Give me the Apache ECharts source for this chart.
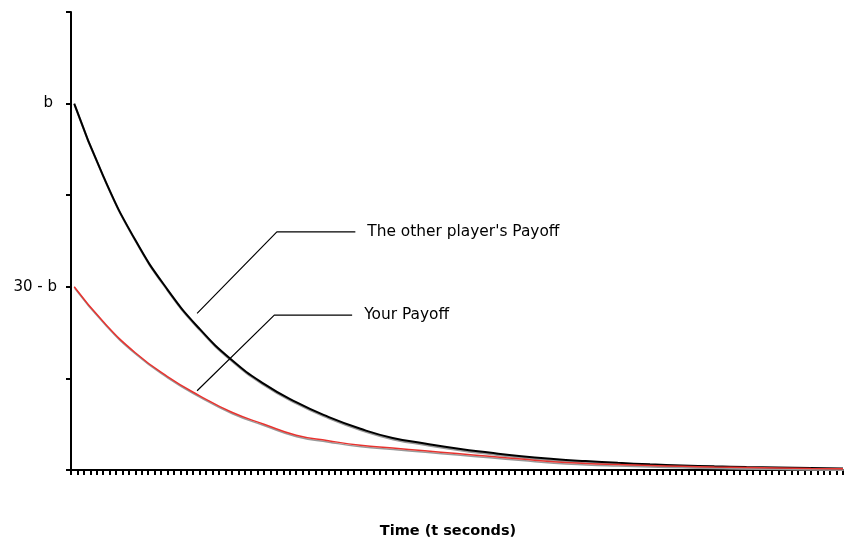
<!DOCTYPE html>
<html>
<head>
<meta charset="utf-8">
<script src="https://cdn.jsdelivr.net/npm/echarts@6/dist/echarts.min.js"></script>
<style>html,body{margin:0;padding:0;background:#fff;overflow:hidden}#c{width:845px;height:544px}</style>
</head>
<body>
<div id="c"></div>
<script>
// Time samples (seconds)
var times = [0.5, 5, 10, 15, 20, 25, 30, 35, 40, 45, 50, 55, 60, 65, 70, 75, 80, 85, 90, 95, 100, 105, 110, 115, 120];
// The other player's payoff (starts at b)
var otherPayoff = [4.00, 3.21, 2.51, 1.97, 1.54, 1.20, 0.94, 0.74, 0.58, 0.45, 0.35, 0.29, 0.235, 0.19, 0.15, 0.12, 0.097, 0.078, 0.062, 0.05, 0.04, 0.032, 0.026, 0.021, 0.017];
// Your payoff (starts at 30 - b)
var yourPayoff = [2.00, 1.62, 1.28, 1.02, 0.81, 0.63, 0.50, 0.38, 0.32, 0.27, 0.24, 0.21, 0.18, 0.15, 0.12, 0.09, 0.072, 0.06, 0.05, 0.04, 0.032, 0.026, 0.021, 0.017, 0.014];
// Y tick labels by tick value
var yTickValues = [0, 1, 2, 3, 4, 5];
var yTickLabels = ['', '', '30 - b', '', 'b', ''];
// Leader lines (data coordinates) and their labels
var otherLeader = [[19.6, 1.71], [32.0, 2.60], [44.2, 2.60]];
var yourLeader = [[19.6, 0.865], [31.6, 1.69], [43.7, 1.69]];
var leaderLabels = ["The other player's Payoff", 'Your Payoff'];
var xTitle = 'Time (t seconds)';

function pairs(xs, ys) { return xs.map(function (x, i) { return [x, ys[i]]; }); }

var FONT = 'DejaVu Sans';
var chart = echarts.init(document.getElementById('c'), null, { renderer: 'canvas', width: 845, height: 544 });

function leaderSeries(data, text) {
  return {
    type: 'line', data: data, symbol: 'none', silent: true, z: 3,
    lineStyle: { color: '#000', width: 1.2 },
    endLabel: { show: true, formatter: text, color: '#000', fontFamily: FONT, fontSize: 15.4, distance: 12 }
  };
}

chart.setOption({
  animation: false,
  backgroundColor: '#fff',
  grid: { left: 71, right: 2, top: 12, bottom: 64, containLabel: false },
  xAxis: {
    type: 'value', min: 0, max: 120, interval: 1,
    axisLine: { show: true, lineStyle: { color: '#000', width: 2 } },
    axisTick: { show: true, inside: false, length: 5, lineStyle: { color: '#000', width: 2 } },
    axisLabel: { show: false },
    splitLine: { show: false },
    name: xTitle, nameLocation: 'middle', nameGap: 54,
    nameTextStyle: { fontFamily: FONT, fontWeight: 'bold', fontSize: 14.5, color: '#000', padding: [0, 18, 0, 0] }
  },
  yAxis: {
    type: 'value', min: 0, max: 5, interval: 1,
    axisLine: { show: true, lineStyle: { color: '#000', width: 2 } },
    axisTick: { show: true, inside: false, length: 5, lineStyle: { color: '#000', width: 2 } },
    axisLabel: {
      show: true, margin: 14, color: '#000', fontFamily: FONT, fontSize: 15,
      formatter: function (v) {
        var i = yTickValues.indexOf(v);
        var t = i >= 0 ? yTickLabels[i] : '';
        return t === 'b' ? '{p|' + t + '}' : t;
      },
      rich: { p: { fontFamily: FONT, fontSize: 15, color: '#000', padding: [0, 4, 0, 0] } }
    },
    splitLine: { show: false }
  },
  series: [
    {
      type: 'line', data: pairs(times, otherPayoff), smooth: true, symbol: 'none', z: 2,
      lineStyle: { color: '#000', width: 2, shadowColor: '#999', shadowBlur: 0, shadowOffsetX: 0.5, shadowOffsetY: 1.5 }
    },
    {
      type: 'line', data: pairs(times, yourPayoff), smooth: true, symbol: 'none', z: 2,
      lineStyle: { color: '#e8332f', width: 1.5, shadowColor: '#999', shadowBlur: 0, shadowOffsetX: 0.5, shadowOffsetY: 1.5 }
    },
    leaderSeries(otherLeader, leaderLabels[0]),
    leaderSeries(yourLeader, leaderLabels[1])
  ]
});
</script>
</body>
</html>
